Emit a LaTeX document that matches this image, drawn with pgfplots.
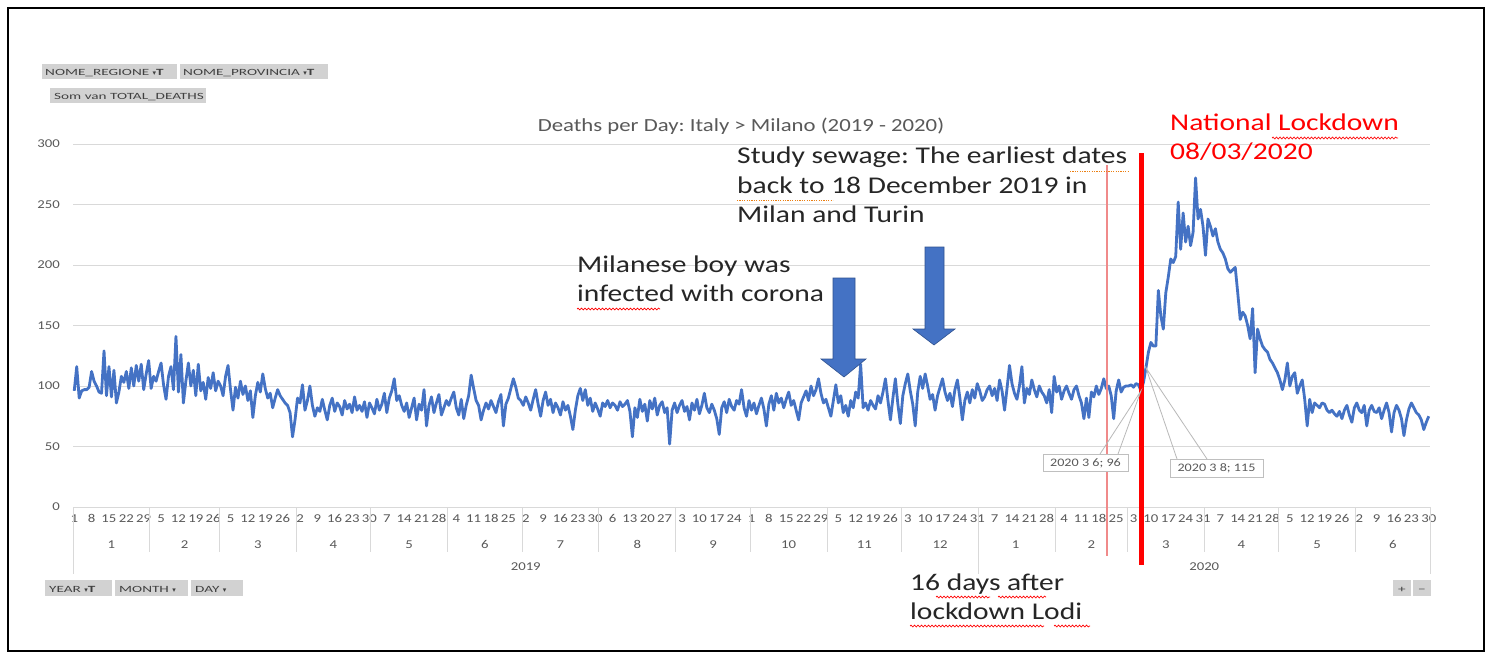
\documentclass[border=0pt]{standalone}
\usepackage{fontspec}
\setmainfont[FakeStretch=1.23]{Carlito}
\newfontfamily\btnfont[FakeStretch=1.6]{Carlito}
\newfontfamily\symfont{DejaVu Sans}
\usepackage{pgfplots}
\usepackage{pgfplotstable}
\pgfplotsset{compat=1.18}
\usetikzlibrary{decorations.pathmorphing}

\definecolor{lineblue}{HTML}{4472C4}
\definecolor{arrowedge}{HTML}{2F528F}
\definecolor{gridgray}{HTML}{D9D9D9}
\definecolor{txtgray}{HTML}{595959}
\definecolor{btngray}{HTML}{D2D2D2}
\definecolor{anntext}{HTML}{262626}
\definecolor{lodired}{HTML}{F08A8A}

% daily deaths, Milano, 1 Jan 2019 - 30 Jun 2020 (one row per day)
\pgfplotstableread[row sep=\\]{
deaths\\
96\\116\\90\\96\\97\\97\\99\\112\\104\\100\\95\\94\\129\\92\\116\\91\\113\\86\\95\\108\\103\\112\\98\\115\\100\\117\\104\\118\\97\\110\\121\\
98\\108\\104\\112\\119\\101\\89\\108\\116\\97\\141\\95\\126\\86\\104\\119\\100\\113\\92\\118\\96\\103\\89\\107\\98\\111\\96\\104\\
100\\92\\108\\117\\97\\80\\99\\90\\104\\93\\100\\88\\96\\74\\92\\103\\95\\110\\98\\90\\94\\82\\90\\97\\92\\89\\86\\84\\78\\58\\72\\
90\\86\\101\\80\\88\\100\\84\\75\\82\\79\\89\\80\\72\\84\\90\\79\\86\\83\\76\\88\\81\\85\\78\\91\\80\\84\\79\\87\\74\\86\\
82\\77\\89\\80\\85\\94\\78\\90\\96\\106\\88\\92\\84\\79\\86\\74\\82\\90\\72\\85\\80\\97\\67\\84\\91\\78\\86\\93\\76\\82\\88\\
84\\90\\95\\82\\76\\89\\73\\84\\92\\109\\98\\88\\84\\72\\80\\86\\81\\88\\83\\78\\87\\93\\67\\85\\90\\98\\106\\99\\90\\88\\
84\\91\\86\\80\\89\\97\\85\\75\\88\\95\\84\\89\\78\\86\\82\\76\\87\\80\\84\\75\\64\\80\\92\\98\\88\\97\\84\\90\\79\\86\\81\\
75\\86\\83\\88\\82\\86\\84\\80\\87\\83\\85\\88\\79\\58\\82\\74\\89\\79\\85\\71\\88\\81\\90\\76\\84\\87\\78\\82\\52\\80\\86\\
78\\84\\88\\79\\83\\72\\86\\80\\89\\77\\84\\94\\82\\78\\85\\80\\73\\60\\82\\87\\78\\89\\83\\80\\88\\85\\97\\82\\75\\88\\
80\\86\\77\\84\\90\\81\\67\\85\\92\\80\\94\\86\\90\\82\\89\\95\\84\\88\\80\\72\\86\\91\\96\\88\\100\\92\\97\\106\\94\\86\\89\\
82\\75\\88\\101\\86\\92\\78\\84\\75\\88\\82\\95\\90\\118\\82\\86\\80\\88\\84\\81\\92\\86\\95\\106\\88\\72\\90\\106\\85\\69\\
92\\102\\110\\96\\85\\67\\95\\108\\98\\110\\100\\89\\93\\80\\92\\99\\106\\95\\88\\94\\83\\97\\105\\90\\72\\88\\95\\86\\97\\90\\102\\
96\\88\\91\\97\\100\\92\\98\\88\\105\\96\\80\\98\\117\\102\\94\\89\\100\\116\\86\\98\\93\\105\\97\\91\\100\\95\\92\\86\\97\\78\\108\\
95\\100\\89\\96\\100\\94\\89\\97\\100\\92\\86\\73\\90\\74\\95\\91\\100\\93\\98\\106\\98\\100\\92\\73\\96\\105\\95\\99\\100\\
100\\101\\99\\102\\101\\96\\103\\115\\128\\136\\133\\133\\179\\158\\147\\177\\190\\205\\202\\207\\252\\213\\243\\219\\232\\216\\227\\272\\238\\246\\232\\
208\\238\\232\\224\\230\\219\\213\\210\\205\\197\\194\\196\\198\\177\\155\\161\\158\\150\\139\\164\\111\\147\\139\\133\\130\\128\\122\\119\\115\\111\\
105\\97\\105\\119\\100\\108\\111\\94\\100\\105\\89\\67\\89\\78\\86\\84\\82\\86\\85\\80\\78\\80\\77\\75\\79\\73\\80\\84\\76\\70\\82\\
86\\80\\78\\84\\67\\80\\84\\79\\78\\82\\73\\80\\86\\78\\62\\78\\84\\80\\73\\59\\72\\81\\86\\82\\78\\76\\72\\64\\70\\75\\
}\deaths

\begin{document}
\frenchspacing
\begin{tikzpicture}[x=1pt,y=-1pt]
\useasboundingbox (0,0) rectangle (1493,658);
\fill[white] (0,0) rectangle (1493,658);

% pivot field buttons
\fill[btngray] (42,64) rectangle (177,79);
\fill[btngray] (180,64) rectangle (328,79);
\fill[btngray] (50,88) rectangle (206,103);
\fill[btngray] (45,580) rectangle (112,596);
\fill[btngray] (115,580) rectangle (188,596);
\fill[btngray] (191,580) rectangle (243,596);
\fill[btngray] (1393,580) rectangle (1411,596);
\fill[btngray] (1413,580) rectangle (1431,596);
\begin{scope}[every node/.style={anchor=base west, inner sep=0pt, text=black!75, font=\btnfont\fontsize{9.5}{11}\selectfont}]
\node at (45,75.5) {NOME\_REGIONE {\symfont\fontsize{7}{8}\selectfont▾}\textbf{T}};
\node at (183,75.5) {NOME\_PROVINCIA {\symfont\fontsize{7}{8}\selectfont▾}\textbf{T}};
\node at (54,99.5) {Som van TOTAL\_DEATHS};
\node at (49,592) {YEAR {\symfont\fontsize{7}{8}\selectfont▾}\textbf{T}};
\node at (119,592) {MONTH {\symfont\fontsize{7}{8}\selectfont▾}};
\node at (195,592) {DAY {\symfont\fontsize{7}{8}\selectfont▾}};
\node at (1398,592) {+};
\node at (1418,592) {−};
\end{scope}

% chart title
\node[anchor=base, text=txtgray, font=\fontsize{18.5}{22}\selectfont] at (741,131.5)
  {Deaths per Day: Italy > Milano (2019 - 2020)};

\begin{axis}[
  at={(73pt,-507pt)}, anchor=south west,
  scale only axis, width=1357pt, height=363pt,
  xmin=-0.5, xmax=546.5, ymin=0, ymax=300,
  ytick={0,50,...,300},
  xtick={0,7,...,546},
  xticklabels={1,8,15,22,29,5,12,19,26,5,12,19,26,2,9,16,23,30,7,14,21,28,4,11,18,25,2,9,16,23,30,6,13,20,27,3,10,17,24,1,8,15,22,29,5,12,19,26,3,10,17,24,31,7,14,21,28,4,11,18,25,3,10,17,24,31,7,14,21,28,5,12,19,26,2,9,16,23,30},
  ymajorgrids,
  major grid style={draw=gridgray, line width=1pt},
  axis line style={draw=none},
  tick style={draw=none},
  tick label style={text=txtgray, font=\fontsize{12}{14}\selectfont},
  /pgf/number format/assume math mode=true,
  yticklabel style={inner sep=0pt, xshift=-13pt},
  xticklabel style={anchor=base, inner sep=0pt, yshift=-15pt},
  clip=false,
]
\addplot[lineblue, line width=2.8pt, line join=round, mark=none]
  table[x expr=\coordindex, y=deaths] {\deaths};
\coordinate (p6) at (axis cs:430,96);
\coordinate (p8) at (axis cs:432,115);

% month and year separators of the category axis
\pgfplotsinvokeforeach{30.5,58.5,89.5,119.5,150.5,180.5,211.5,242.5,272.5,303.5,333.5,395.5,424.5,455.5,485.5,516.5}{
  \draw[gridgray, line width=1pt] (axis cs:#1,0) -- ++(0pt,-45pt);
}
\pgfplotsinvokeforeach{-0.5,364.5,546.5}{
  \draw[gridgray, line width=1pt] (axis cs:#1,0) -- ++(0pt,-67pt);
}
\begin{scope}[every node/.style={anchor=base, inner sep=0pt, text=txtgray, font=\fontsize{12}{14}\selectfont}]
\node at ([yshift=-41pt]axis cs:15,0) {1};
\node at ([yshift=-41pt]axis cs:44.5,0) {2};
\node at ([yshift=-41pt]axis cs:74,0) {3};
\node at ([yshift=-41pt]axis cs:104.5,0) {4};
\node at ([yshift=-41pt]axis cs:135,0) {5};
\node at ([yshift=-41pt]axis cs:165.5,0) {6};
\node at ([yshift=-41pt]axis cs:196,0) {7};
\node at ([yshift=-41pt]axis cs:227,0) {8};
\node at ([yshift=-41pt]axis cs:257.5,0) {9};
\node at ([yshift=-41pt]axis cs:288,0) {10};
\node at ([yshift=-41pt]axis cs:318.5,0) {11};
\node at ([yshift=-41pt]axis cs:349,0) {12};
\node at ([yshift=-41pt]axis cs:379.5,0) {1};
\node at ([yshift=-41pt]axis cs:410,0) {2};
\node at ([yshift=-41pt]axis cs:440,0) {3};
\node at ([yshift=-41pt]axis cs:470.5,0) {4};
\node at ([yshift=-41pt]axis cs:501,0) {5};
\node at ([yshift=-41pt]axis cs:531.5,0) {6};
\node at ([yshift=-63pt]axis cs:182,0) {2019};
\node at ([yshift=-63pt]axis cs:455.5,0) {2020};
\end{scope}
\end{axis}

% lockdown markers
\draw[lodired, line width=1.3pt] (1107,165) -- (1107,556);
\draw[red, line width=5pt] (1141,153) -- (1141,565);

% data callouts
\draw[gray!55, line width=0.8pt] (1100,454) -- (p6) -- (1118,454);
\draw[gray!55, line width=0.8pt] (1177,459) -- (p8) -- (1207,459);
\node[draw=gray!50, fill=white, inner sep=0pt, minimum width=85pt, minimum height=17pt,
  text=txtgray, font=\fontsize{11.5}{13}\selectfont] at (1085.5,463) {2020 3 6; 96};
\node[draw=gray!50, fill=white, inner sep=0pt, minimum width=93pt, minimum height=18pt,
  text=txtgray, font=\fontsize{11.5}{13}\selectfont] at (1216.5,468.5) {2020 3 8; 115};

% block arrows
\filldraw[fill=lineblue, draw=arrowedge, line width=0.6pt]
  (833,278) -- (855,278) -- (855,359) -- (866,359) -- (844,377) -- (821,359) -- (833,359) -- cycle;
\filldraw[fill=lineblue, draw=arrowedge, line width=0.6pt]
  (925,247) -- (944,247) -- (944,329) -- (955,329) -- (934,345) -- (913,329) -- (925,329) -- cycle;

% annotations, one node per line
\begin{scope}[every node/.style={anchor=base west, inner sep=0pt, text=anntext, font=\fontsize{24}{29}\selectfont}]
\node at (737,164) {Study sewage: The earliest dates};
\node at (737,193) {back to 18 December 2019 in};
\node at (737,222) {Milan and Turin};
\node at (577,272) {Milanese boy was};
\node at (577,301) {infected with corona};
\node[text=red] at (1170,131) {National Lockdown};
\node[text=red] at (1170,160) {08/03/2020};
\node at (910,590) {16 days after};
\node at (910,619) {lockdown Lodi};
\end{scope}

% spell-check underlines
\begin{scope}[line width=0.7pt, decoration={snake, amplitude=0.9pt, segment length=3.5pt}]
\draw[red, decorate] (1272,138) -- (1398,138);
\draw[red, decorate] (577,309) -- (660,309);
\draw[red, decorate] (936,597) -- (990,597);
\draw[red, decorate] (998,597) -- (1046,597);
\draw[red, decorate] (910,626) -- (1044,626);
\draw[red, decorate] (1054,626) -- (1090,626);
\end{scope}
\draw[orange!70!brown, line width=0.9pt, dash pattern=on 1.2pt off 1.2pt] (737,200) -- (833,200);
\draw[orange!70!brown, line width=0.9pt, dash pattern=on 1.2pt off 1.2pt] (1070,171) -- (1128,171);

% outer frame
\draw[black, line width=2pt] (8,8) rectangle (1484,651);
\end{tikzpicture}
\end{document}
